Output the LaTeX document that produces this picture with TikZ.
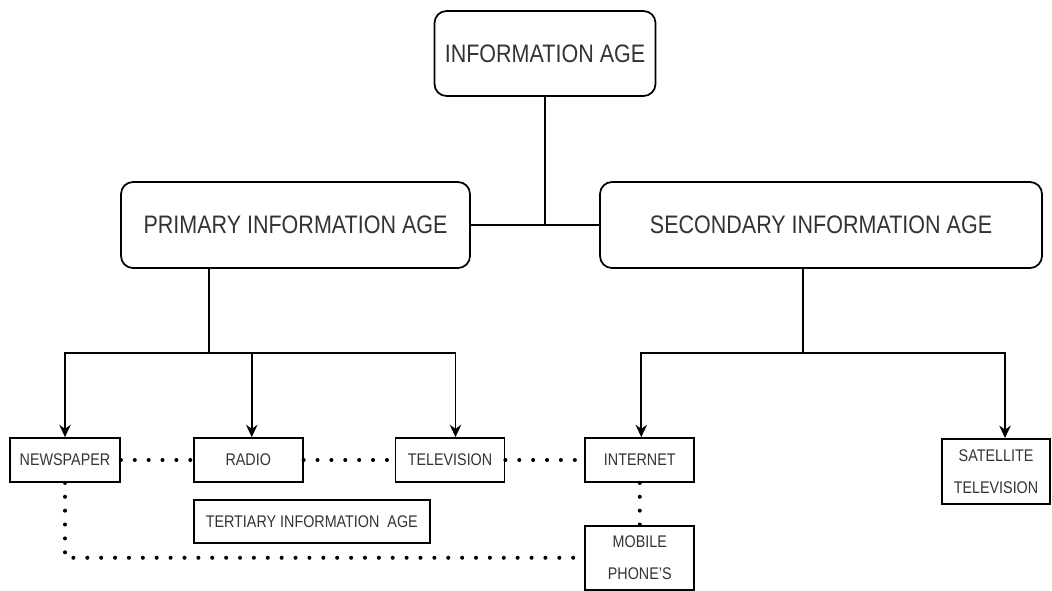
\documentclass[tikz,border=0pt]{standalone}
\usepackage{fontspec}
\setmainfont{Liberation Sans}[FakeStretch=0.85]
\usepackage{tikz}
\usetikzlibrary{positioning}
\usetikzlibrary{arrows,arrows.meta}
\tikzstyle{bigblock} = [draw, rounded corners=0.24cm, rectangle, minimum height=1.72cm, inner sep=0pt, text=black!80, font=\fontsize{14.4}{17}\selectfont]
\tikzstyle{block} = [draw, rectangle, minimum width=2.18cm, minimum height=0.88cm, inner sep=0pt, align=center, text=black!80, font=\fontsize{9.6}{18}\selectfont]
\tikzstyle{link} = [line width=2.3pt, line cap=round, dash pattern=on 0pt off 7.9pt]
\tikzstyle{coord} = [coordinate]

\begin{document}
\begin{tikzpicture}[>={Stealth[length=7pt,width=6.5pt]}, line width=1pt]
	\useasboundingbox (0,0) rectangle (21.04,-11.8);
	\node [bigblock, minimum width=4.42cm, minimum height=1.7cm] (infoage) at (10.9,-1.07) {INFORMATION AGE};
	\node [bigblock, minimum width=6.98cm] (primary) at (5.91,-4.5) {PRIMARY INFORMATION AGE};
	\node [bigblock, minimum width=8.84cm] (secondary) at (16.42,-4.5) {SECONDARY INFORMATION AGE};

	\node [block, minimum width=2.2cm] (newspaper) at (1.3,-9.2) {NEWSPAPER};
	\node [block, right=1.44cm of newspaper] (radio) {RADIO};
	\node [block, right=1.82cm of radio] (television) {TELEVISION};
	\node [block, right=1.58cm of television] (internet) {INTERNET};
	\node [block, minimum width=2.16cm, minimum height=1.3cm, anchor=north] (satellite) at (19.92,-8.76)
		{SATELLITE\\TELEVISION};
	\node [block, minimum width=4.72cm, minimum height=0.86cm, anchor=north west, below right=0.32cm and 0cm of radio.south west] (tertiary)
		{TERTIARY INFORMATION~ AGE};
	\node [block, minimum height=1.28cm, below=0.84cm of internet] (mobile) {MOBILE\\PHONE'S};

	\node [coord] (pdrop) at ([xshift=-1.73cm]primary.south) {};
	\node [coord, below=1.68cm of pdrop] (pbar) {};
	\node [coord] (sdrop) at ([xshift=-0.36cm]secondary.south) {};
	\node [coord, below=1.68cm of sdrop] (sbar) {};

	\draw [-] (infoage) -- (infoage.south |- primary.east);
	\draw [-] (primary) -- (secondary);
	\draw [-] (pdrop) -- (pbar);
	\draw [->] (pbar) -| (newspaper.north);
	\draw [->] (pbar) -| ([xshift=0.07cm]radio.north);
	\draw [->] (pbar) -| ([xshift=0.11cm]television.north);
	\draw [-] (sdrop) -- (sbar);
	\draw [->] (sbar) -| ([xshift=0.03cm]internet.north);
	\draw [->] (sbar) -| ([xshift=0.18cm]satellite.north);

	\draw [link] (newspaper) -- (radio);
	\draw [link] (radio) -- (television);
	\draw [link] (television) -- (internet);
	\draw [link] (internet) -- (mobile);
	\draw [link] (newspaper.south) |- (mobile.west);
\end{tikzpicture}
\end{document}
